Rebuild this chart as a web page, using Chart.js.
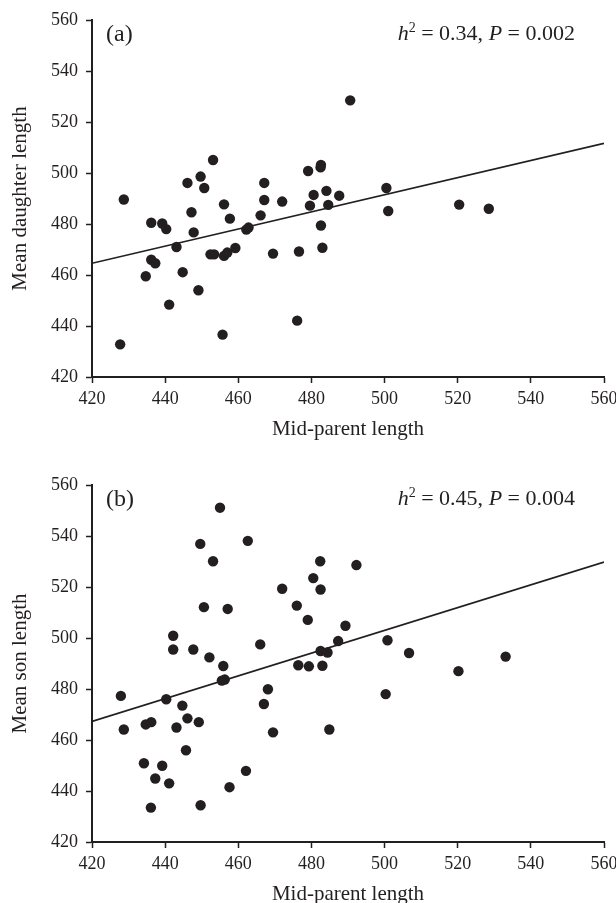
<!DOCTYPE html>
<html>
<head>
<meta charset="utf-8">
<script src="https://cdn.jsdelivr.net/npm/chart.js@4.4.0/dist/chart.umd.min.js"></script>
<style>
html, body { margin: 0; padding: 0; background: #fff; overflow: hidden; }
body { width: 616px; height: 903px; position: relative; font-family: "Liberation Serif", "Times New Roman", serif; color: #231f20; }
canvas { position: absolute; left: 0; }
#chartA { top: 0; }
#chartB { top: 465px; }
.tag { position: absolute; left: 106px; font-size: 24px; line-height: 24px; }
.stat { position: absolute; right: 41px; font-size: 22px; line-height: 22px; white-space: nowrap; }
.stat sup { font-size: 14px; vertical-align: 0; position: relative; top: -8px; }
</style>
</head>
<body>
<canvas id="chartA" width="616" height="452"></canvas>
<canvas id="chartB" width="616" height="452"></canvas>
<div class="tag" style="top:21px">(a)</div>
<div class="stat" style="top:22px"><i>h</i><sup>2</sup> = 0.34, <i>P</i> = 0.002</div>
<div class="tag" style="top:486px">(b)</div>
<div class="stat" style="top:487px"><i>h</i><sup>2</sup> = 0.45, <i>P</i> = 0.004</div>

<script>
// 数据：亲代平均体长 vs 女儿 / 儿子平均体长
const daughterX = [427.7, 428.7, 434.7, 436.2, 436.2, 437.3, 439.2, 440.3, 441.1, 443.1,
                   444.8, 446.1, 447.2, 447.8, 449.1, 449.7, 450.7, 452.4, 453.4, 453.1,
                   455.7, 456.1, 456.1, 457.0, 457.7, 459.2, 462.2, 462.8, 466.1, 467.1,
                   467.1, 469.5, 472.0, 476.1, 476.6, 479.1, 479.6, 480.6, 482.5, 482.6,
                   482.6, 483.0, 484.1, 484.6, 487.6, 490.6, 500.5, 501.0, 520.4, 528.5];
const daughterY = [432.8, 489.6, 459.5, 480.5, 466.0, 464.6, 480.2, 478.0, 448.4, 471.0,
                   461.1, 496.1, 484.6, 476.7, 454.0, 498.6, 494.1, 468.1, 468.1, 505.1,
                   436.6, 487.7, 467.5, 468.8, 482.1, 470.6, 477.8, 478.6, 483.4, 496.1,
                   489.4, 468.4, 488.8, 442.1, 469.2, 500.8, 487.2, 491.4, 502.2, 503.2,
                   479.4, 470.7, 493.0, 487.5, 491.1, 528.5, 494.1, 485.1, 487.6, 486.0];

const sonX = [427.9, 428.7, 434.2, 434.7, 436.1, 436.2, 437.3, 439.2, 440.3, 441.1,
              442.2, 442.2, 443.1, 444.7, 445.7, 446.1, 447.7, 449.2, 449.6, 449.7,
              450.6, 452.1, 453.1, 455.0, 455.5, 456.3, 455.9, 457.1, 457.6, 462.1,
              462.6, 466.0, 467.0, 468.1, 469.5, 472.0, 476.0, 476.4, 479.0, 479.3,
              480.5, 482.4, 482.5, 482.5, 483.0, 484.4, 484.9, 487.3, 489.3, 492.3,
              500.3, 500.8, 506.7, 520.2, 533.1];
const sonY = [477.3, 464.1, 450.9, 466.1, 433.5, 467.0, 444.9, 449.9, 476.0, 443.0,
              500.9, 495.5, 464.9, 473.5, 456.0, 468.5, 495.5, 467.0, 536.9, 434.4,
              512.1, 492.4, 530.1, 551.1, 483.3, 483.7, 489.0, 511.4, 441.5, 447.9,
              538.1, 497.5, 474.1, 479.9, 463.0, 519.3, 512.7, 489.3, 507.1, 488.9,
              523.5, 530.1, 519.0, 494.9, 489.1, 494.3, 464.1, 498.8, 504.8, 528.6,
              478.0, 499.1, 494.1, 487.0, 492.7];

// 回归线两端
const fitX = [420, 560];
const fitDaughterY = [464.6, 511.6];
const fitSonY = [467.3, 529.8];

const ink = '#231f20';
const serif = '"Liberation Serif", "Times New Roman", serif';

function toPoints(xs, ys) {
    return xs.map((x, i) => ({ x: x, y: ys[i] }));
}

function makePanel(id, xs, ys, fitY, yTitle) {
    const ctx = document.getElementById(id).getContext('2d');
    return new Chart(ctx, {
        type: 'scatter',
        data: {
            datasets: [{
                data: toPoints(xs, ys),
                pointRadius: 5.2,
                pointBackgroundColor: ink,
                pointBorderWidth: 0,
                pointHoverRadius: 5.2
            }, {
                type: 'line',
                data: toPoints(fitX, fitY),
                borderColor: ink,
                borderWidth: 1.7,
                pointRadius: 0,
                fill: false
            }]
        },
        options: {
            responsive: false,
            animation: false,
            devicePixelRatio: 1,
            layout: { padding: { top: 20, right: 12, left: 0, bottom: 0 } },
            plugins: { legend: { display: false }, tooltip: { enabled: false } },
            scales: {
                x: {
                    type: 'linear',
                    min: 420,
                    max: 560,
                    ticks: { stepSize: 20, color: ink, font: { family: serif, size: 18 }, padding: 5, maxRotation: 0 },
                    grid: { drawOnChartArea: false, drawTicks: true, tickLength: 6, tickWidth: 1.5, tickColor: ink },
                    border: { display: true, color: ink, width: 2 },
                    title: { display: true, text: 'Mid-parent length', color: ink, font: { family: serif, size: 21 }, padding: { top: 0, bottom: 10 } },
                    afterFit: function(scale) {
                        scale.height = 75;
                        // 不让最后一个刻度标签挤窄绘图区
                        scale.paddingLeft = 0;
                        scale.paddingRight = 0;
                    }
                },
                y: {
                    type: 'linear',
                    min: 420,
                    max: 560,
                    ticks: { stepSize: 20, color: ink, font: { family: serif, size: 18 }, padding: 8 },
                    grid: { drawOnChartArea: false, drawTicks: true, tickLength: 6, tickWidth: 1.5, tickColor: ink },
                    border: { display: true, color: ink, width: 2 },
                    title: { display: true, text: yTitle, color: ink, font: { family: serif, size: 21 }, padding: { top: 8, bottom: 0 } },
                    afterFit: function(scale) {
                        scale.width = 92;
                        scale.paddingTop = 0;
                        scale.paddingBottom = 0;
                    }
                }
            }
        }
    });
}

makePanel('chartA', daughterX, daughterY, fitDaughterY, 'Mean daughter length');
makePanel('chartB', sonX, sonY, fitSonY, 'Mean son length');
</script>
</body>
</html>
